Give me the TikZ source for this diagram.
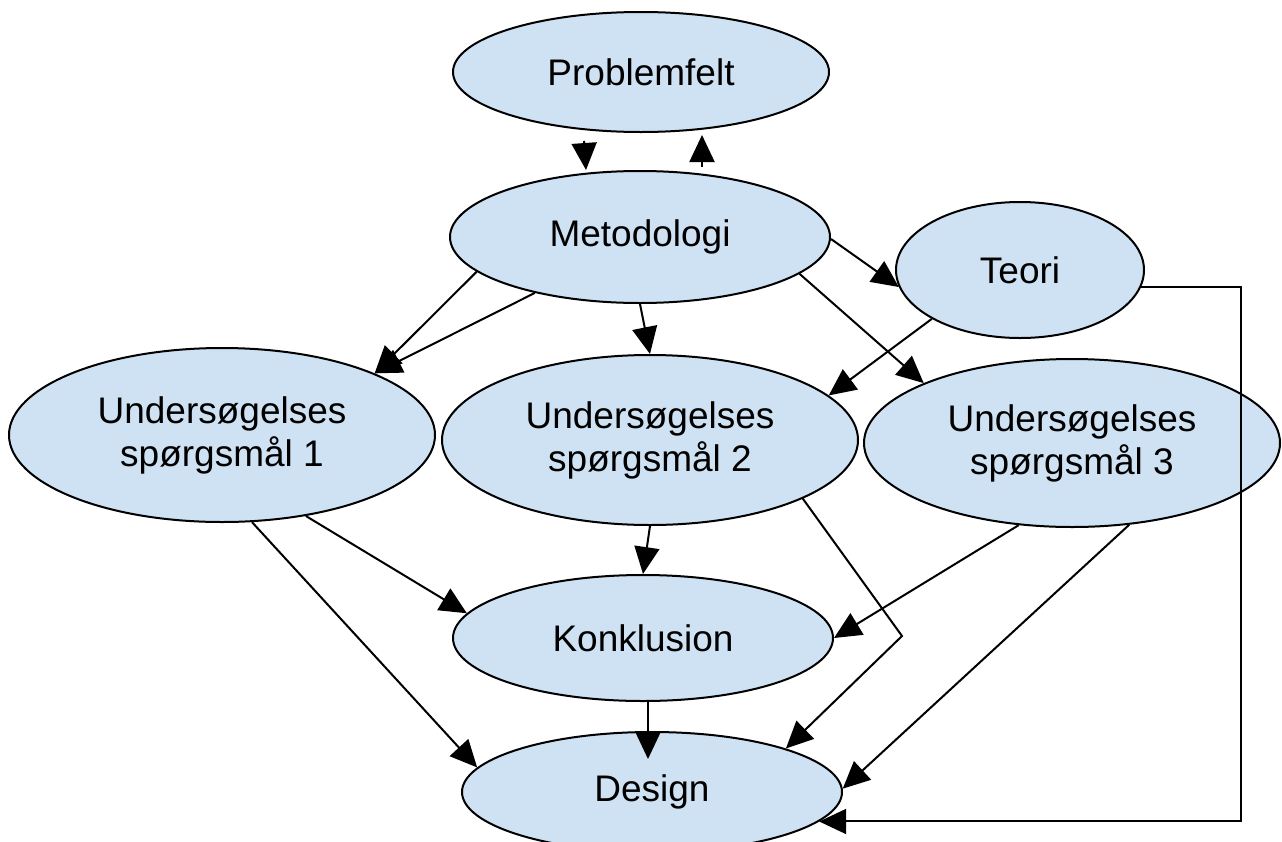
\documentclass[tikz,border=0pt]{standalone}
\usepackage{fontspec}
\setmainfont{Liberation Sans}
\usetikzlibrary{shapes.geometric,arrows.meta}
\definecolor{bubblefill}{HTML}{CFE2F3}
\begin{document}
\begin{tikzpicture}[x=1pt,y=-1pt,
  bubble/.style={ellipse, draw=black, line width=2pt, fill=bubblefill, inner sep=0pt,
    align=center, font=\fontsize{37}{43}\selectfont},
  arr/.style={line width=2pt, -{Triangle[length=27pt,width=25pt]}}]
\clip (0,0) rectangle (1282,841);

\node[bubble, minimum width=376pt, minimum height=120pt] (pf) at (641,72) {Problemfelt};
\node[bubble, minimum width=380pt, minimum height=132pt] (met) at (640,237) {Metodologi};
\node[bubble, minimum width=248pt, minimum height=136pt] (teo) at (1020,270) {Teori};
\node[bubble, minimum width=426pt, minimum height=174pt] (u1) at (222,435) {Undersøgelses\\spørgsmål 1};
\node[bubble, minimum width=416pt, minimum height=170pt] (u2) at (650,440) {Undersøgelses\\spørgsmål 2};
\node[bubble, minimum width=416pt, minimum height=168pt] (u3) at (1072,443) {Undersøgelses\\spørgsmål 3};
\node[bubble, minimum width=380pt, minimum height=126pt] (kon) at (643,638) {Konklusion};
\node[bubble, minimum width=380pt, minimum height=120pt] (des) at (652,792) {Design};
\coordinate (knaek) at (902,636);

\draw[arr] ([xshift=-57pt,yshift=-8pt]pf.south) -- ([xshift=-54pt]met.north);
\draw[arr] ([xshift=62pt,yshift=3pt]met.north) -- ([xshift=61pt,yshift=-2pt]pf.south);
\draw[arr] (met.192) -- (u1.22);
\draw[arr] (met.208) -- (u1.22);
\draw[arr] (met.south) -- (u2.north);
\draw[arr] ([yshift=-2pt]met.east) -- (teo.188);
\draw[arr] (met.347) -- (u3.158);
\draw[arr] (teo.209) -- (u2.14);
\draw[arr] (teo.352) -- ++(100,0) |- (des.350);
\draw[arr] (u1.316) -- (kon.172);
\draw[arr] (u1.289) -- (des.172);
\draw[arr] (u2.south) -- (kon.north);
\draw[arr] (u2.339) -- (knaek) -- (des.18);
\draw[arr] (u3.237) -- (kon.east);
\draw[arr] (u3.305) -- (des.1);
\draw[arr] ([xshift=5pt]kon.south) -- ([xshift=-4pt,yshift=-28pt]des.north);
\end{tikzpicture}
\end{document}
